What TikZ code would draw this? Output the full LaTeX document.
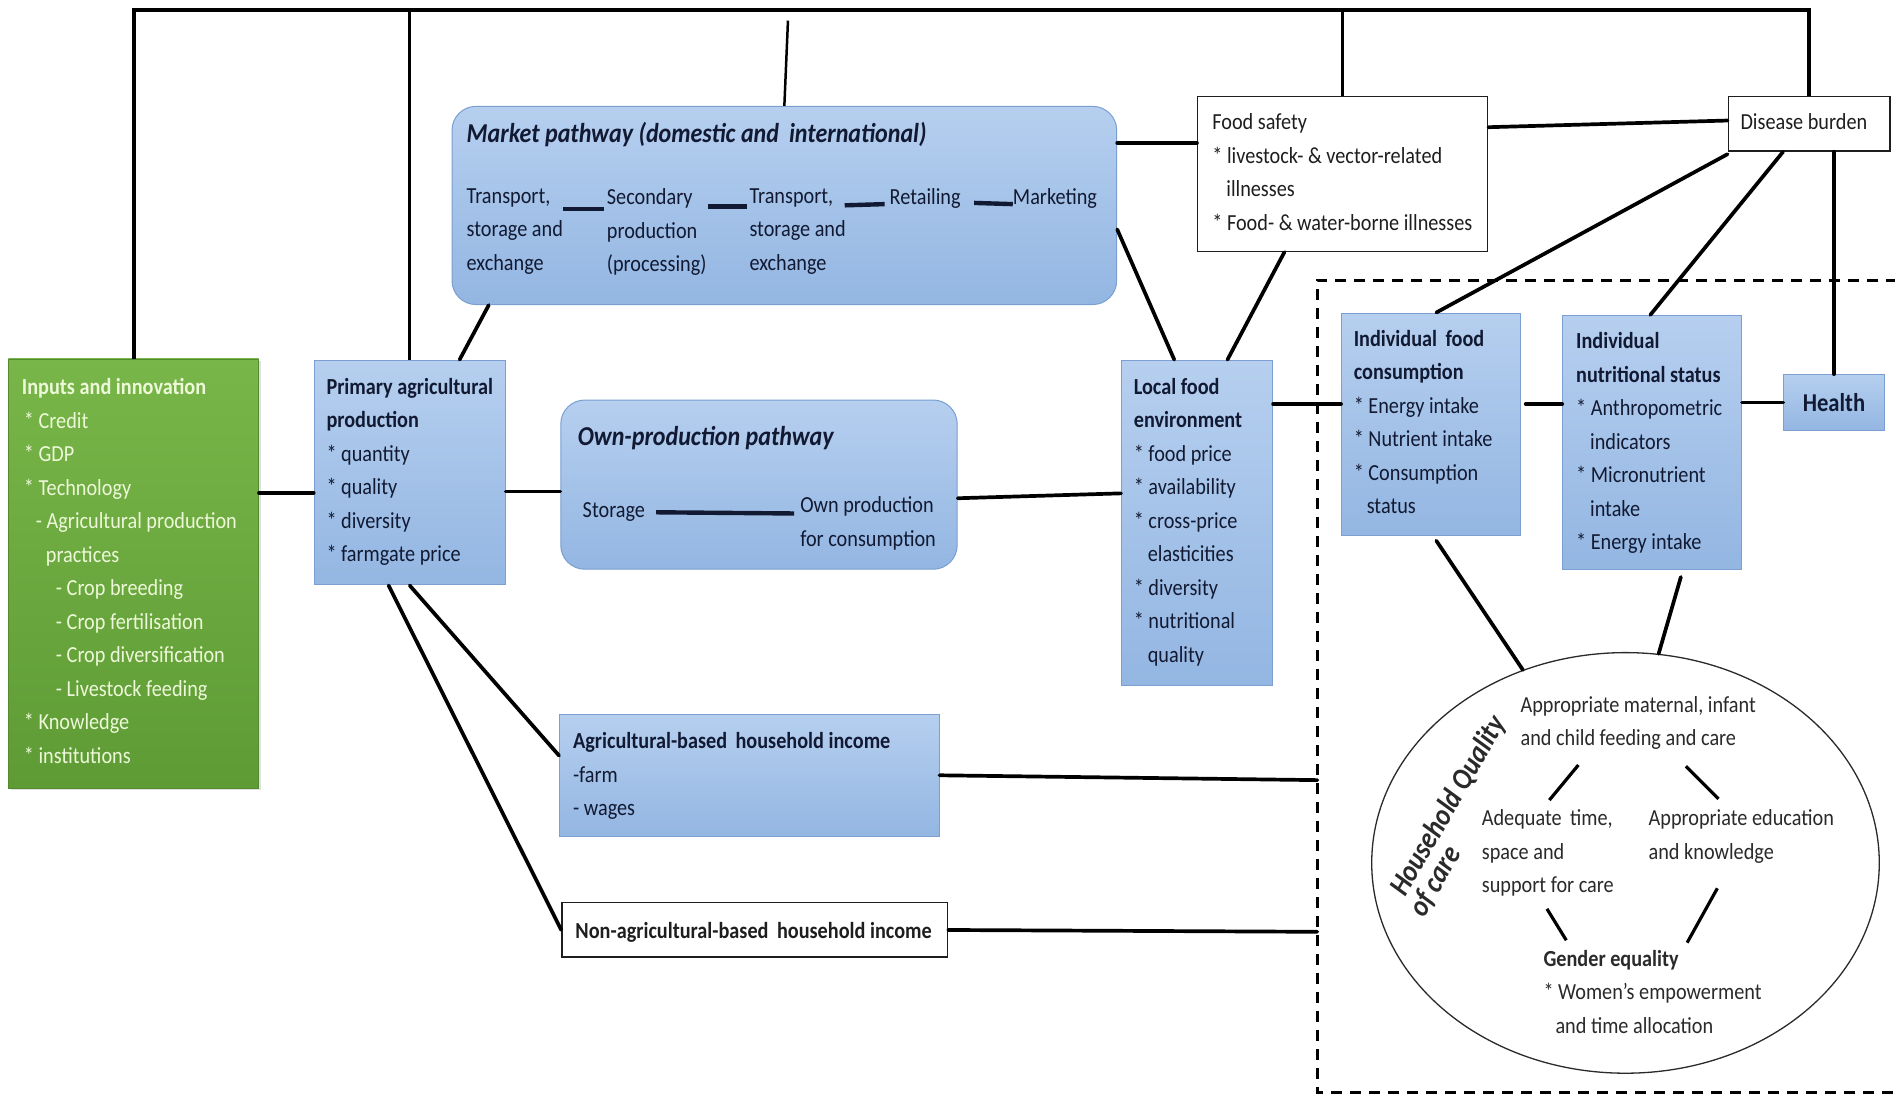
\documentclass[tikz,border=0pt]{standalone}
\usepackage{fontspec}
\setmainfont{Carlito}[FakeStretch=0.88]
\usetikzlibrary{calc,fit,shapes.geometric,shadows}

\definecolor{boxtop}{HTML}{B6CFEF}
\definecolor{boxbot}{HTML}{93B6E2}
\definecolor{boxline}{HTML}{7A9FD0}
\definecolor{greentop}{HTML}{78B649}
\definecolor{greenbot}{HTML}{5E9B35}
\definecolor{greentext}{HTML}{EDF8D8}
\definecolor{navy}{HTML}{121A33}
\definecolor{ink}{HTML}{1E1E1E}
\definecolor{careink}{HTML}{2A2A2A}

\newcommand{\bodyfont}{\fontsize{23}{33.5}\selectfont}
\newcommand{\titlefont}{\fontsize{27.3}{30}\selectfont\bfseries\itshape}

\begin{document}
\begin{tikzpicture}[x=1.2086pt,y=-1.2086pt,
  bluebox/.style={draw=boxline,line width=1pt,top color=boxtop,bottom color=boxbot,inner sep=0pt},
  roundbox/.style={bluebox,rounded corners=24pt},
  whitebox/.style={draw=ink,fill=white,line width=1.4pt,inner sep=0pt},
  greenbox/.style={draw=greenbot!90!black,line width=0.8pt,top color=greentop,bottom color=greenbot,inner sep=0pt,
    drop shadow={opacity=0.25,shadow xshift=2.5pt,shadow yshift=-2.5pt}},
  txt/.style={anchor=north west,inner sep=0pt,align=left,font=\bodyfont,text=navy,yshift=-3.5pt},
  wtxt/.style={txt,text=ink},
  ctxt/.style={txt,text=careink},
  hqtxt/.style={inner sep=0pt,rotate=60,text=careink,font=\fontsize{30}{32}\selectfont\bfseries\itshape},
  wire/.style={line width=3.7pt,line cap=round,draw=black},
  topwire/.style={line width=4pt,draw=black},
  thinwire/.style={line width=2.5pt,draw=black},
  link/.style={line width=4.4pt,draw=navy},
  carelink/.style={line width=3.2pt,draw=black}]

\useasboundingbox (0,0) rectangle (1568,909);
\fill[white] (0,0) rectangle (1568,909);

% ---------- boxes ----------
\node[greenbox,fit={(7,297) (214,652)}] (green) {};
\node[bluebox,fit={(260,298) (418,484)}] (prim) {};
\node[roundbox,fit={(374,88) (924,252)}] (market) {};
\node[roundbox,fit={(464,331) (792,471)}] (own) {};
\node[bluebox,fit={(928,298) (1053,567)}] (local) {};
\node[whitebox,fit={(991,80) (1231,208)}] (safety) {};
\node[whitebox,fit={(1430,80) (1564,125)}] (disease) {};
\node[bluebox,fit={(1110,259) (1258,443)}] (indfood) {};
\node[bluebox,fit={(1293,261) (1441,471)}] (indnut) {};
\node[bluebox,fit={(1476,310) (1559,356)}] (health) {};
\node[bluebox,fit={(463,591) (777,692)}] (agri) {};
\node[whitebox,fit={(465,747) (784,792)}] (nonagri) {};
\node[draw=careink,line width=1.3pt,ellipse,inner sep=0pt,
      minimum width=507.6pt,minimum height=420.6pt] (care) at (1345,714) {};

% ---------- dashed household / individual frame ----------
\coordinate (dbNE) at (1570,232);
\coordinate (dbNW) at (1090,232);
\coordinate (dbSW) at (1090,904);
\coordinate (dbSE) at (1570,904);
\draw[line width=2.4pt,dash pattern=on 11pt off 8pt] (dbNE) -- (dbNW) -- (dbSW) -- (dbSE);

% ---------- texts ----------
\node[txt,text=greentext] (greentxt) at (18,310) {%
  \textbf{Inputs and innovation}\\
  \hspace*{2pt}* Credit\\
  \hspace*{2pt}* GDP\\
  \hspace*{2pt}* Technology\\
  \hspace*{14pt}- Agricultural production\\
  \hspace*{24pt}practices\\
  \hspace*{34pt}- Crop breeding\\
  \hspace*{34pt}- Crop fertilisation\\
  \hspace*{34pt}- Crop diversification\\
  \hspace*{34pt}- Livestock feeding\\
  \hspace*{2pt}* Knowledge\\
  \hspace*{2pt}* institutions};

\node[txt] (primtxt) at (270,310) {%
  \textbf{Primary agricultural}\\
  \textbf{production}\\
  * quantity\\
  * quality\\
  * diversity\\
  * farmgate price};

\node[txt,font=\titlefont] (markettitle) at (386,98) {Market pathway (domestic and\, international)};
\node[txt] (mk1) at (386,153) {Transport,\\storage and\\exchange};
\node[txt] (mk2) at (502,153) {Secondary\\production\\(processing)};
\node[txt] (mk3) at (620,153) {Transport,\\storage and\\exchange};
\node[txt] (mk4) at (736,153) {Retailing};
\node[txt] (mk5) at (838,153) {Marketing};

\node[txt,font=\titlefont] (owntitle) at (478,350) {Own-production pathway};
\node[txt] (storage) at (482,413) {Storage};
\node[txt] (ownprod) at (662,408) {Own production\\for consumption};

\node[txt] (localtxt) at (938,310) {%
  \textbf{Local food}\\
  \textbf{environment}\\
  * food price\\
  * availability\\
  * cross-price\\
  \hspace*{14pt}elasticities\\
  * diversity\\
  * nutritional\\
  \hspace*{14pt}quality};

\node[wtxt] (safetytxt) at (1003,91) {%
  Food safety\\
  * livestock- \& vector-related\\
  \hspace*{14pt}illnesses\\
  * Food- \& water-borne illnesses};

\node[wtxt] (diseasetxt) at (1440,91) {Disease burden};

\node[txt] (indfoodtxt) at (1120,270) {%
  \textbf{Individual\, food}\\
  \textbf{consumption}\\
  * Energy intake\\
  * Nutrient intake\\
  * Consumption\\
  \hspace*{13pt}status};

\node[txt] (indnuttxt) at (1304,272) {%
  \textbf{Individual}\\
  \textbf{nutritional status}\\
  * Anthropometric\\
  \hspace*{14pt}indicators\\
  * Micronutrient\\
  \hspace*{14pt}intake\\
  * Energy intake};

\node[inner sep=0pt,text=navy,font=\fontsize{25.7}{28}\selectfont\bfseries] (healthtxt) at (health.center) {Health};

\node[txt] (agritxt) at (474,603) {%
  \textbf{Agricultural-based\, household income}\\
  -farm\\
  - wages};

\node[wtxt] (nonagritxt) at (476,760) {\textbf{Non-agricultural-based\, household income}};

\node[ctxt] (maternal) at (1258,573) {Appropriate maternal, infant\\and child feeding and care};
\node[ctxt] (adequate) at (1226,667) {Adequate\, time,\\space and\\support for care};
\node[ctxt] (education) at (1364,667) {Appropriate education\\and knowledge};
\node[ctxt] (gender) at (1277,783) {\textbf{Gender equality}\\* Women’s empowerment\\\hspace*{12pt}and time allocation};
\node[hqtxt] (hqline1) at (1199,667) {Household Quality};
\node[hqtxt,anchor=west] (hqline2) at ($(hqline1.west)+(15,17)$) {of care};

% ---------- top frame of influences ----------
\coordinate (topline) at (0,8);
\coordinate (markettop) at (0,17);
\draw[topwire] (green.north) -- (green.north |- topline) -- (disease.north |- topline) -- (disease.north);
\draw[thinwire] (prim.north) -- (prim.north |- topline);
\draw[thinwire] (market.north) -- ($(market.north |- markettop)+(3,0)$);
\draw[thinwire] (safety.north) -- (safety.north |- topline);

% ---------- connectors ----------
% inputs -> primary production
\coordinate (primW) at ($(prim.north west)!0.59!(prim.south west)$);
\draw[wire] (green.east |- primW) -- (primW);
% primary production -> market and own-production pathways
\draw[wire] ($(prim.north west)!0.76!(prim.north east)$) -- ($(market.south west)!0.056!(market.south east)$);
\coordinate (ownW) at ($(own.north west)!0.54!(own.south west)$);
\draw[wire] (prim.east |- ownW) -- (ownW);
% primary production -> household incomes
\draw[wire] (prim.south) -- ($(agri.north west)!0.34!(agri.south west)$);
\draw[wire] ($(prim.south west)!0.39!(prim.south east)$) -- (nonagri.west);
% market pathway -> food safety and local food environment
\coordinate (safetyW) at ($(safety.north west)!0.3!(safety.south west)$);
\draw[wire] (market.east |- safetyW) -- (safetyW);
\draw[wire] ($(market.north east)!0.62!(market.south east)$) -- ($(local.north west)!0.35!(local.north east)$);
% own production -> local food environment
\draw[wire] ($(own.north east)!0.58!(own.south east)$) -- ($(local.north west)!0.41!(local.south west)$);
% food safety -> disease burden, local food environment
\draw[wire] ($(safety.north east)!0.2!(safety.south east)$) -- ($(disease.north west)!0.44!(disease.south west)$);
\draw[wire] ($(safety.south west)!0.3!(safety.south east)$) -- ($(local.north west)!0.7!(local.north east)$);
% disease burden -> individual outcomes and health
\draw[wire] ($(disease.south west)+(0,2)$) -- ($(indfood.north west)!0.53!(indfood.north east)$);
\draw[wire] ($(disease.south west)!0.34!(disease.south east)$) -- ($(indnut.north west)!0.49!(indnut.north east)$);
\draw[wire] (health.north |- disease.south) -- (health.north);
% local food environment -> individual food consumption -> nutritional status -> health
\coordinate (indfoodW) at ($(indfood.north west)!0.41!(indfood.south west)$);
\draw[wire] (local.east |- indfoodW) -- (indfoodW);
\coordinate (indnutW) at ($(indnut.north west)!0.35!(indnut.south west)$);
\draw[wire] ($(indfood.east |- indnutW)+(4,0)$) -- (indnutW);
\draw[wire] (indnut.east |- health.west) -- (health.west);
% household incomes -> household frame
\draw[wire] (agri.east) -- ($(agri.east -| dbNW)+(0,4)$);
\draw[wire] (nonagri.east) -- ($(nonagri.east -| dbNW)+(0,1.5)$);
% individual outcomes -> household quality of care
\draw[wire] ($(indfood.south west)!0.53!(indfood.south east)+(0,4)$) -- (care.118);
\draw[wire] ($(indnut.south west)!0.66!(indnut.south east)+(0,6)$) -- (care.81);

% links inside the market pathway
\draw[link] ($(mk1.north east)+(0,17)$) -- ($(mk2.north west)+(-2,17)$);
\draw[link] ($(mk2.north east)+(1,15)$) -- ($(mk3.north west)+(-2,15)$);
\draw[link] ($(mk3.north east)+(-1,14)$) -- ($(mk4.north west)+(-4,13)$);
\draw[link] ($(mk4.north east)+(11,12)$) -- ($(mk5.north west)+(0,13)$);
% link inside the own-production pathway
\draw[link] ($(storage.east)+(9,0)$) -- ($(ownprod.west |- storage.east)+(-5,1)$);

% links between the elements of care
\coordinate (m1) at (1306,633); \coordinate (a1) at (1282,662);
\coordinate (m2) at (1395,634); \coordinate (e1) at (1422,661);
\coordinate (a2) at (1280,752); \coordinate (g1) at (1296,778);
\coordinate (e2) at (1421,735); \coordinate (g2) at (1396,780);
\draw[carelink] (m1) -- (a1);
\draw[carelink] (m2) -- (e1);
\draw[carelink] (a2) -- (g1);
\draw[carelink] (e2) -- (g2);
\end{tikzpicture}
\end{document}
